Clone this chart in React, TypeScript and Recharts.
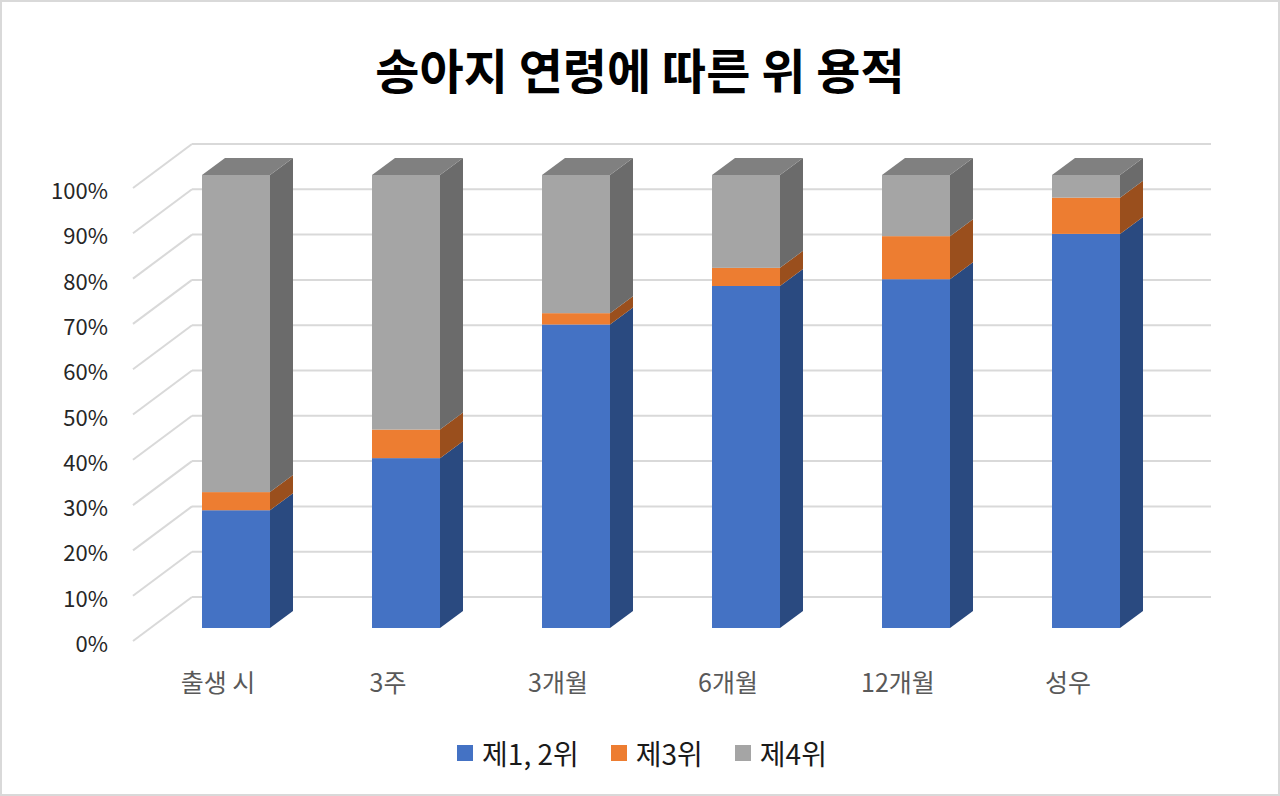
import React from 'react';
import { BarChart, Bar, XAxis, YAxis, CartesianGrid } from 'recharts';

const categories = ['출생 시', '3주', '3개월', '6개월', '12개월', '성우'];
const rank12 = [26, 37.5, 67, 75.5, 77, 87];
const rank3 = [4, 6.3, 2.5, 4, 9.5, 8];
const rank4 = [70, 56.2, 30.5, 20.5, 13.5, 5];
const yTicks = [0, 10, 20, 30, 40, 50, 60, 70, 80, 90, 100];

const seriesInfo = [
  { key: 'r12', name: '제1, 2위', front: '#4472C4', side: '#2A4A80' },
  { key: 'r3', name: '제3위', front: '#ED7D31', side: '#9A4F1D' },
  { key: 'r4', name: '제4위', front: '#A5A5A5', side: '#6B6B6B', top: '#808080' },
];

const data = categories.map((name, i) => ({
  name,
  r12: rank12[i],
  r3: rank3[i],
  r4: rank4[i],
}));

const FONT = '"Noto Sans CJK KR", "Noto Sans", sans-serif';
// depth offset of the 3D columns
const DX = 23;
const DY = 17;

const make3DShape = (front: string, side: string, top?: string) => (props: any) => {
  const { x, y, width, height } = props;
  if (!height || height <= 0) return <g />;
  const r = x + width;
  return (
    <g>
      <rect x={x} y={y} width={width} height={height} fill={front} />
      <polygon
        points={`${r},${y} ${r + DX},${y - DY} ${r + DX},${y + height - DY} ${r},${y + height}`}
        fill={side}
      />
      {top && (
        <polygon
          points={`${x},${y} ${x + DX},${y - DY} ${r + DX},${y - DY} ${r},${y}`}
          fill={top}
        />
      )}
    </g>
  );
};

const gridLine = (props: any) => {
  const { x1, x2, y1, index } = props;
  const back = y1 - 31;
  const frontY = y1 + 13;
  return (
    <g key={`grid-${index}-${y1}`}>
      <line x1={x1 - 18} y1={frontY} x2={x1 + 41} y2={back} stroke="#D9D9D9" strokeWidth={2} />
      <line x1={x1 + 41} y1={back} x2={x2 + 40} y2={back} stroke="#D9D9D9" strokeWidth={2} />
    </g>
  );
};

const YTick = (props: any) => {
  const { y, payload } = props;
  return (
    <text x={108} y={y + 14} textAnchor="end" dominantBaseline="central" fontSize={22} fill="#262626" fontFamily={FONT}>
      {`${payload.value}%`}
    </text>
  );
};

const XTick = (props: any) => {
  const { x, payload } = props;
  return (
    <text x={x - 18} y={681} textAnchor="middle" dominantBaseline="central" fontSize={25} fill="#595959" fontFamily={FONT}>
      {payload.value}
    </text>
  );
};

const LegendBox = () => (
  <div
    style={{
      position: 'absolute',
      left: 0,
      top: 734,
      width: 1280,
      display: 'flex',
      justifyContent: 'center',
      alignItems: 'center',
      fontFamily: FONT,
    }}
  >
    {seriesInfo.map((s) => (
      <div key={s.key} style={{ display: 'flex', alignItems: 'center', margin: '0 16px' }}>
        <span style={{ width: 16, height: 16, background: s.front, display: 'inline-block', marginRight: 9 }} />
        <span style={{ fontSize: 28, color: '#1a1a1a', lineHeight: '34px' }}>{s.name}</span>
      </div>
    ))}
  </div>
);

export default function App() {
  return (
    <div
      style={{
        position: 'absolute',
        left: 0,
        top: 0,
        width: 1280,
        height: 796,
        boxSizing: 'border-box',
        border: '2px solid #D9D9D9',
        background: '#fff',
        overflow: 'hidden',
      }}
    >
      <div
        style={{
          position: 'absolute',
          left: 0,
          top: 36,
          width: 1276,
          textAlign: 'center',
          fontFamily: FONT,
          fontWeight: 'bold',
          fontSize: 48,
          lineHeight: '60px',
          color: '#000',
        }}
      >
        송아지 연령에 따른 위 용적
      </div>
      <div style={{ position: 'absolute', left: -2, top: -2 }}>
        <BarChart
          width={1280}
          height={796}
          data={data}
          margin={{ top: 175, right: 109, bottom: 138, left: 0 }}
          barSize={68}
        >
          <CartesianGrid vertical={false} horizontal={gridLine} />
          <XAxis dataKey="name" axisLine={false} tickLine={false} tick={<XTick />} interval={0} height={30} />
          <YAxis
            domain={[0, 100]}
            ticks={yTicks}
            axisLine={false}
            tickLine={false}
            tick={<YTick />}
            width={151}
          />
          {seriesInfo.map((s) => (
            <Bar
              key={s.key}
              dataKey={s.key}
              name={s.name}
              stackId="a"
              fill={s.front}
              shape={make3DShape(s.front, s.side, s.top)}
              isAnimationActive={false}
            />
          ))}
        </BarChart>
      </div>
      <LegendBox />
    </div>
  );
}
